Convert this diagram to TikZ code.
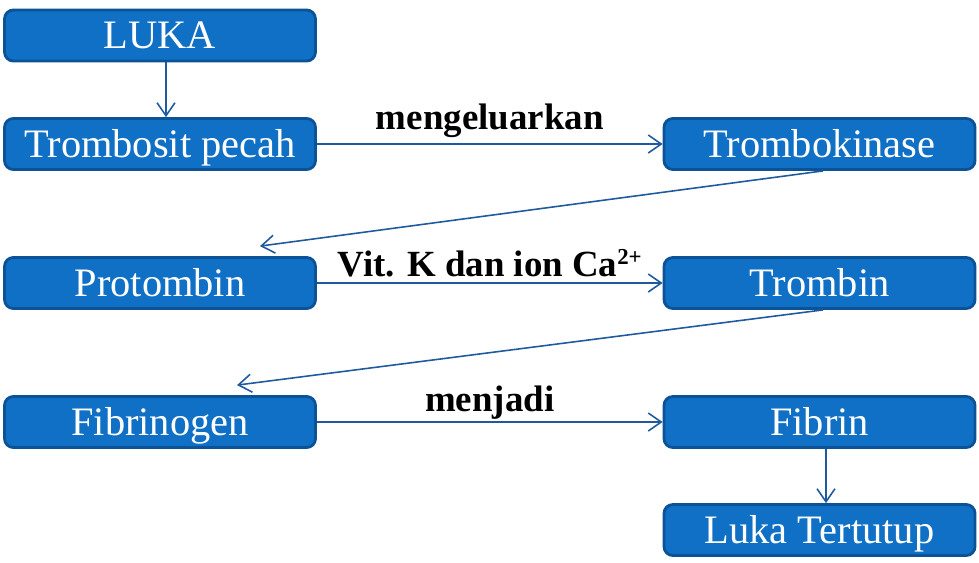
\documentclass[tikz,border=0pt]{standalone}
\usepackage{fontspec}
\setmainfont{Liberation Serif}
\usepackage{xcolor}
\usepackage{tikz}
\usetikzlibrary{arrows.meta}
\definecolor{boxfill}{HTML}{1070C6}
\definecolor{boxline}{HTML}{0B5296}
\definecolor{arrowcol}{HTML}{1F5A9E}

\begin{document}
\begin{tikzpicture}[x=0.02cm,y=-0.02cm,
	kotak/.style={draw=boxline,fill=boxfill,line width=1.6pt,rounded corners=5pt,
		minimum width=6.22cm,minimum height=1.02cm,text height=0.62cm,text depth=0.1cm,
		text=white,font=\fontsize{23}{25}\selectfont},
	panah/.style={->,draw=arrowcol,line width=0.9pt,>={Straight Barb[length=2.6mm,width=3.6mm]}},
	label/.style={font=\bfseries\fontsize{21}{23}\selectfont,text=black}]
	\useasboundingbox (0,0) rectangle (979,562);
	\node[kotak] at (160,35.5) (luka) {LUKA};
	\node[kotak] at (160,144) (trombosit) {Trombosit pecah};
	\node[kotak] at (819.5,144) (trombokinase) {Trombokinase};
	\node[kotak] at (160,283) (protombin) {Protombin};
	\node[kotak] at (819.5,283) (trombin) {Trombin};
	\node[kotak] at (160,422) (fibrinogen) {Fibrinogen};
	\node[kotak] at (819.5,422) (fibrin) {Fibrin};
	\node[kotak] at (819.5,530) (tertutup) {Luka Tertutup};
	\draw [panah] ([xshift=1.2mm]luka.south) -- ([xshift=1.2mm]trombosit.north);
	\draw [panah] (trombosit.east) -- (trombokinase.west) node[midway,above,label] {mengeluarkan};
	\draw [panah] ([xshift=0.07cm]trombokinase.south) -- ([xshift=2cm,yshift=0.2cm]protombin.north);
	\draw [panah] (protombin.east) -- (trombin.west) node[midway,above,label,inner sep=3pt] {Vit. K dan ion Ca{\fontsize{13}{14}\selectfont\raisebox{0.5em}{2+}}};
	\draw [panah] ([xshift=0.07cm]trombin.south) -- ([xshift=1.54cm,yshift=0.2cm]fibrinogen.north);
	\draw [panah] (fibrinogen.east) -- (fibrin.west) node[midway,above,label,inner sep=1pt] {menjadi};
	\draw [panah] ([xshift=1.3mm]fibrin.south) -- ([xshift=1.3mm]tertutup.north);
\end{tikzpicture}
\end{document}
